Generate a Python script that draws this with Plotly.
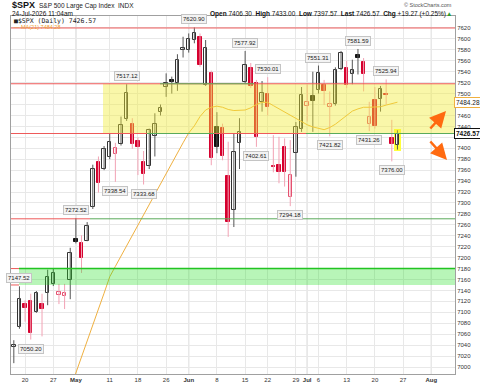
import plotly.graph_objects as go

# ---------------- data ----------------
dates = ["2026-04-16","2026-04-17","2026-04-20","2026-04-21","2026-04-22","2026-04-23","2026-04-24",
         "2026-04-27","2026-04-28","2026-04-29","2026-04-30","2026-05-01","2026-05-04","2026-05-05",
         "2026-05-06","2026-05-07","2026-05-08","2026-05-11","2026-05-12","2026-05-13","2026-05-14",
         "2026-05-15","2026-05-18","2026-05-19","2026-05-20","2026-05-21","2026-05-22","2026-05-26",
         "2026-05-27","2026-05-28","2026-05-29","2026-06-01","2026-06-02","2026-06-03","2026-06-04",
         "2026-06-05","2026-06-08","2026-06-09","2026-06-10","2026-06-11","2026-06-12","2026-06-15",
         "2026-06-16","2026-06-17","2026-06-18","2026-06-22","2026-06-23","2026-06-24","2026-06-25",
         "2026-06-26","2026-06-29","2026-06-30","2026-07-01","2026-07-02","2026-07-06","2026-07-07",
         "2026-07-08","2026-07-09","2026-07-10","2026-07-13","2026-07-14","2026-07-15","2026-07-16",
         "2026-07-17","2026-07-20","2026-07-21","2026-07-22","2026-07-23","2026-07-24"]

opens = [7036, 7073, 7116, 7120, 7101, 7116, 7135, 7152, 7132, 7130, 7159, 7234, 7226, 7231, 7292,
         7375, 7363, 7384, 7390, 7408, 7453, 7444, 7414, 7374, 7368, 7422, 7467, 7512, 7525, 7519,
         7579, 7580, 7598, 7604, 7516, 7537, 7439, 7437, 7349, 7287, 7409, 7522, 7547, 7520, 7485,
         7500, 7368, 7369, 7403, 7311, 7391, 7435, 7477, 7495, 7507, 7516, 7475, 7481, 7545, 7546,
         7536, 7570, 7558, 7444, 7488, 7490, 7500, 7418, 7406.30]
highs = [7049, 7147.52, 7122, 7134, 7139, 7134, 7178, 7181, 7152, 7152, 7218, 7272.52, 7241, 7265,
         7370, 7385, 7404, 7427, 7410, 7458, 7517.12, 7455, 7420, 7395, 7436, 7464, 7480, 7537, 7531,
         7572, 7604, 7610, 7620.90, 7610, 7598, 7542, 7466, 7445, 7412, 7427, 7455, 7577.92, 7556,
         7525, 7523, 7530.01, 7424, 7421, 7418, 7415, 7448, 7512, 7516, 7540, 7551.31, 7525, 7504,
         7548, 7578, 7560, 7562, 7581.59, 7565, 7485, 7512, 7514, 7525.94, 7452, 7433.00]
lows = [7007, 7070, 7083, 7050.20, 7099, 7056, 7113, 7148, 7115, 7106, 7124, 7226, 7172, 7230, 7289,
        7319, 7360, 7380, 7338.54, 7405, 7450, 7399, 7351, 7333.68, 7362, 7385, 7460, 7494, 7500,
        7505, 7566, 7575, 7592, 7549, 7514, 7369, 7391, 7378, 7238, 7256, 7362, 7519, 7510, 7402.61,
        7467, 7460, 7356, 7336, 7330, 7294.18, 7348, 7430, 7449, 7430, 7500, 7479, 7421.82, 7478,
        7543, 7510, 7517, 7535, 7504, 7431.26, 7436, 7467, 7480, 7376.00, 7397.57]
closes = [7041, 7124, 7107, 7063, 7136, 7106, 7164, 7172, 7137, 7135, 7208, 7229, 7199, 7258, 7363,
          7336, 7399, 7411, 7400, 7443, 7501, 7408, 7402, 7353, 7433, 7444, 7473, 7519, 7521, 7561,
          7583, 7599, 7611, 7552, 7583, 7382, 7403, 7385, 7266, 7394, 7430, 7552, 7513, 7421, 7501,
          7475, 7365, 7357, 7356, 7352, 7439, 7497, 7484, 7487, 7537, 7504, 7481, 7543, 7575, 7516,
          7543, 7566, 7535, 7457, 7440, 7508, 7498, 7407.30, 7426.57]

ma_start = "2026-04-30"
ma21 = [6960, 6990, 7019, 7048, 7077, 7106, 7135, 7165, 7184, 7203, 7222, 7241, 7260, 7279, 7298,
        7317, 7336, 7354, 7372, 7391, 7410, 7428, 7441, 7458, 7470, 7475, 7477, 7475, 7471, 7469,
        7469, 7470, 7474, 7480, 7484, 7484, 7478, 7472, 7466, 7460, 7455, 7449, 7443, 7439, 7436,
        7434, 7438, 7444, 7452, 7460, 7468, 7472, 7475, 7475, 7475, 7476, 7479, 7482, 7484.28]

high_label_dates = ["2026-04-17", "2026-05-01", "2026-05-14", "2026-06-02", "2026-06-15",
                    "2026-06-22", "2026-07-06", "2026-07-15", "2026-07-22"]
low_label_dates = ["2026-04-21", "2026-05-12", "2026-05-19", "2026-06-17", "2026-06-26",
                   "2026-07-08", "2026-07-17", "2026-07-23"]

tick_dates = ["2026-04-20", "2026-04-27", "2026-05-01", "2026-05-11", "2026-05-18", "2026-05-26",
              "2026-06-01", "2026-06-08", "2026-06-15", "2026-06-22", "2026-06-29", "2026-07-01",
              "2026-07-06", "2026-07-13", "2026-07-20", "2026-07-27", "2026-08-03"]
tick_text = ["20", "27", "<b>May</b>", "11", "18", "26", "<b>Jun</b>", "8", "15", "22", "29",
             "<b>Jul</b>", "6", "13", "20", "27", "<b>Aug</b>"]
month_dates = ["2026-05-01", "2026-06-01", "2026-07-01", "2026-08-03"]
holidays = ["2026-05-25", "2026-06-19", "2026-07-03"]
y_ticks = list(range(7000, 7621, 20))

resist_top = 7620
band_hi = 7518
band_lo = 7427
level_mid = 7271
green_hi = 7180
green_lo = 7150
prev_close_hdr = closes[-2]

# ---------------- helpers ----------------
DAY = 86400000
FONT = "Liberation Sans, Arial, sans-serif"
L, R, T, B, W, H = 11, 25, 16, 9, 480, 383
PW, PH = W - L - R, H - T - B


def noon(d):
    return d + " 12:00"


def px(xp):
    return (xp - L) / PW


def py(yp):
    return (H - B - yp) / PH


xs = [noon(d) for d in dates]
styles = {
    "bh": dict(fill="white", line="#333333", wick="#555555"),
    "bf": dict(fill="#111111", line="#111111", wick="#555555"),
    "rh": dict(fill="white", line="#e5506f", wick="#f2a2b4"),
    "rf": dict(fill="#d6002e", line="#d6002e", wick="#f2a2b4"),
}
groups = {k: [] for k in styles}
for i in range(len(dates)):
    up = True if i == 0 else closes[i] >= closes[i - 1]
    hollow = closes[i] > opens[i]
    key = ("b" if up else "r") + ("h" if hollow else "f")
    groups[key].append(i)

fig = go.Figure()

# highlight of last candle
fig.add_trace(go.Bar(x=[xs[-1]], y=[highs[-1] - lows[-1] + 6], base=[lows[-1] - 3],
                     width=1.2 * DAY, marker=dict(color="#ffff3c", line=dict(width=0)),
                     showlegend=False, hoverinfo="skip"))

# wicks
for k, idx in groups.items():
    wx, wy = [], []
    for i in idx:
        wx += [xs[i], xs[i], None]
        wy += [lows[i], highs[i], None]
    fig.add_trace(go.Scatter(x=wx, y=wy, mode="lines", line=dict(color=styles[k]["wick"], width=1),
                             showlegend=False, hoverinfo="skip"))

# bodies
for k, idx in groups.items():
    fig.add_trace(go.Bar(
        x=[xs[i] for i in idx],
        y=[abs(closes[i] - opens[i]) for i in idx],
        base=[min(opens[i], closes[i]) for i in idx],
        width=0.62 * DAY,
        marker=dict(color=styles[k]["fill"], line=dict(color=styles[k]["line"], width=1)),
        showlegend=False, hoverinfo="skip"))

# moving average
ma_i0 = dates.index(ma_start)
fig.add_trace(go.Scatter(x=xs[ma_i0:ma_i0 + len(ma21)], y=ma21, mode="lines",
                         line=dict(color="#efb040", width=1), showlegend=False, hoverinfo="skip"))

# ---------------- shapes ----------------
shapes = []
RED = "#ee5a5a"
GRN = "#5aaa5a"


def hline(y, x0p, x1p, color, width=1):
    shapes.append(dict(type="line", xref="paper", yref="y", x0=px(x0p), x1=px(x1p), y0=y, y1=y,
                       line=dict(color=color, width=width), layer="above"))


for d in month_dates:
    shapes.append(dict(type="line", xref="x", yref="paper", x0=noon(d), x1=noon(d), y0=0, y1=1,
                       line=dict(color="#c4c4c4", width=1), layer="below"))

# yellow band
shapes.append(dict(type="rect", xref="paper", yref="y", x0=px(103), x1=1, y0=band_lo, y1=band_hi,
                   line=dict(width=0), fillcolor="rgb(240,235,50)", opacity=0.42, layer="above"))
# green band
shapes.append(dict(type="rect", xref="paper", yref="y", x0=px(19), x1=1, y0=green_lo, y1=green_hi,
                   line=dict(width=0), fillcolor="rgb(40,225,40)", opacity=0.33, layer="above"))

hline(resist_top, L, L + PW, RED)
hline(band_hi, L, L + PW, RED)
hline(band_hi, 160, 254, GRN)
hline(band_lo, L, L + PW, GRN)
hline(band_lo, L, 147, RED)
hline(band_lo, 214, 306, RED)
hline(level_mid, L, 90, RED)
hline(level_mid, 90, L + PW, GRN)
hline(green_hi, L, 19, RED)
hline(green_hi, 19, L + PW, "#22c422", 1.5)
hline(green_lo, L, 19, RED)

# ---------------- annotations ----------------
ann = []
lab = dict(showarrow=False, font=dict(family=FONT, size=6, color="#222"), bgcolor="#f3f3f3",
           bordercolor="#c4c4c4", borderwidth=1, borderpad=1)
for d in high_label_dates:
    i = dates.index(d)
    ann.append(dict(x=xs[i], y=highs[i], xref="x", yref="y", text=f"{highs[i]:.2f}",
                    yanchor="bottom", yshift=3, **lab))
for d in low_label_dates:
    i = dates.index(d)
    ann.append(dict(x=xs[i], y=lows[i], xref="x", yref="y", text=f"{lows[i]:.2f}",
                    yanchor="top", yshift=-4, **lab))

# right-side value boxes (they sit over the axis labels, as in the original)
box_values = [ma21[-1], closes[-1]]
ann.append(dict(x=1, y=ma21[-1], xref="paper", yref="y", xanchor="left", text=f"{ma21[-1]:.2f}",
                showarrow=False, font=dict(family=FONT, size=6.5, color="#222"), bgcolor="white",
                bordercolor="#efb040", borderwidth=1, borderpad=1, xshift=-1))
ann.append(dict(x=1, y=closes[-1], xref="paper", yref="y", xanchor="left", text=f"<b>{closes[-1]:.2f}</b>",
                showarrow=False, font=dict(family=FONT, size=6.5, color="#111"), bgcolor="white",
                bordercolor="#111", borderwidth=1, borderpad=1, xshift=-1))
y_ticktext = ["" if any(abs(v - b) < 8 for b in box_values) else str(v) for v in y_ticks]

# header
chg = closes[-1] - prev_close_hdr
ann.append(dict(x=px(10), y=py(5.5), xref="paper", yref="paper", xanchor="left", yanchor="middle",
                text="<b>$SPX</b>", showarrow=False, font=dict(family=FONT, size=9, color="#111")))
ann.append(dict(x=px(37), y=py(6), xref="paper", yref="paper", xanchor="left", yanchor="middle",
                text="S&P 500 Large Cap Index  INDX", showarrow=False,
                font=dict(family=FONT, size=6.5, color="#222")))
ann.append(dict(x=px(10), y=py(13.8), xref="paper", yref="paper", xanchor="left", yanchor="middle",
                text="24-Jul-2026 11:04am", showarrow=False, font=dict(family=FONT, size=6.5, color="#111")))
ann.append(dict(x=px(454), y=py(13.8), xref="paper", yref="paper", xanchor="right", yanchor="middle",
                text=(f"<b>Open</b> {opens[-1]:.2f}  <b>High</b> {highs[-1]:.2f}  <b>Low</b> {lows[-1]:.2f}  "
                      f"<b>Last</b> {closes[-1]:.2f}  <b>Chg</b> +{chg:.2f} (+0.25%)"
                      "<span style='color:#2a9d2a'>▲</span>"),
                showarrow=False, font=dict(family=FONT, size=6.5, color="#111")))
ann.append(dict(x=px(454), y=py(5), xref="paper", yref="paper", xanchor="right", yanchor="middle",
                text="© StockCharts.com", showarrow=False, font=dict(family=FONT, size=5.5, color="#555")))

# in-plot legend
ann.append(dict(x=px(12), y=py(20.5), xref="paper", yref="paper", xanchor="left", yanchor="middle",
                text=f"■$SPX (Daily) {closes[-1]:.2f}", showarrow=False,
                font=dict(family="DejaVu Sans Mono, monospace", size=6.5, color="#222")))
ann.append(dict(x=px(12), y=py(27), xref="paper", yref="paper", xanchor="left", yanchor="middle",
                text=f"— MA(21) {ma21[-1]:.2f}", showarrow=False,
                font=dict(family=FONT, size=5.5, color="#efa030")))

# orange arrows
ann.append(dict(x=px(446), y=py(111), xref="paper", yref="paper", ax=-17, ay=19, text="",
                showarrow=True, arrowhead=2, arrowsize=1.3, arrowwidth=2.5, arrowcolor="#ff6a10"))
ann.append(dict(x=px(447), y=py(160), xref="paper", yref="paper", ax=-18, ay=-20, text="",
                showarrow=True, arrowhead=2, arrowsize=1.3, arrowwidth=2.5, arrowcolor="#ff6a10"))

fig.update_layout(
    width=W, height=H, margin=dict(l=L, r=R, t=T, b=B), paper_bgcolor="white", plot_bgcolor="white",
    barmode="overlay", bargap=0, showlegend=False, shapes=shapes, annotations=ann,
    font=dict(family=FONT, size=6, color="#333"),
    xaxis=dict(type="date", range=["2026-04-16 00:00", "2026-08-07 16:48"], automargin=False,
               rangebreaks=[dict(bounds=["sat", "mon"]), dict(values=holidays)],
               tickvals=[noon(d) for d in tick_dates], ticktext=tick_text, tickangle=0,
               tickfont=dict(family=FONT, size=6, color="#333"), showgrid=True, gridcolor="#e8e8e8",
               gridwidth=1, ticks="", showline=True, linecolor="#a0a0a0", mirror=True, zeroline=False,
               fixedrange=True),
    yaxis=dict(range=[6987.2, 7641.9], side="right", tickvals=y_ticks, ticktext=y_ticktext, ticks="",
               automargin=False,
               tickfont=dict(family=FONT, size=6, color="#333"), showgrid=True, gridcolor="#e8e8e8",
               showline=True, linecolor="#a0a0a0", mirror=True, zeroline=False, fixedrange=True),
)

fig.write_html("out.html")
